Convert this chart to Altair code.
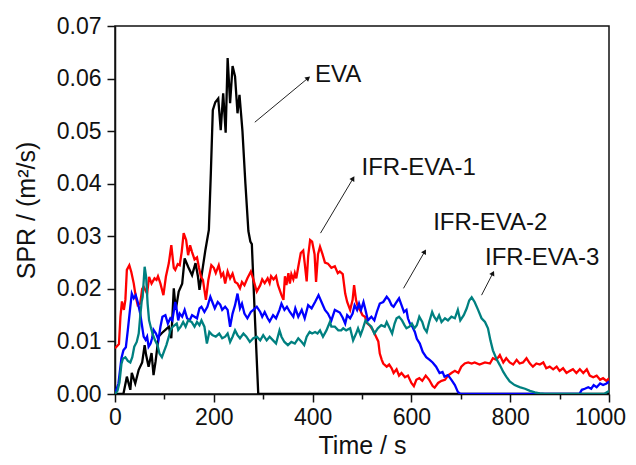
import math
import altair as alt
import pandas as pd

# ---------------- data ----------------
series_names = ["EVA", "IFR-EVA-1", "IFR-EVA-2", "IFR-EVA-3"]
series_colors = ["#000000", "#FF0000", "#0000FF", "#008080"]

eva_t = [0, 17, 24, 31, 34, 41, 48, 55, 60, 63, 68, 74, 78, 82, 85, 88, 95, 102, 109, 114,
         119, 123, 129, 136, 141, 148, 156, 163, 168, 171, 176, 183, 190, 194, 198, 203, 209,
         214, 219, 224, 228, 233, 238, 243, 248, 252, 255, 258, 264, 270, 274, 277, 283, 290,
         300, 1000]
eva_v = [0, 0, 0.0033, 0.0008, 0.004, 0.002, 0.0046, 0.006, 0.0093, 0.0074, 0.0052, 0.0078,
         0.0036, 0.0061, 0.0084, 0.0109, 0.0116, 0.0122, 0.0128, 0.0106, 0.0201, 0.016, 0.0195,
         0.021, 0.0258, 0.0242, 0.0226, 0.0249, 0.0223, 0.0198, 0.023, 0.0274, 0.0312, 0.042,
         0.054, 0.0555, 0.0562, 0.0502, 0.0572, 0.0497, 0.0639, 0.0553, 0.0624, 0.0604, 0.0534,
         0.0569, 0.0535, 0.05, 0.04, 0.031, 0.029, 0.0285, 0.015, 0.0, 0.0, 0.0]

ifr1_t = [0, 3, 8, 11, 14, 18, 21, 24, 29, 33, 38, 42, 46, 51, 55, 58, 65, 69, 74, 80, 84, 87,
          92, 98, 103, 109, 114, 119, 122, 127, 131, 135, 139, 144, 148, 152, 156, 161, 166, 170,
          174, 178, 184, 189, 195, 200, 204, 210, 215, 219, 223, 228, 233, 238, 243, 248, 253,
          257, 262, 268, 275, 280, 287, 294, 298, 303, 309, 313, 316, 321, 326, 330, 337, 341,
          344, 347, 351, 354, 357, 361, 364, 367, 371, 376, 381, 384, 388, 391, 395, 399, 404,
          407, 411, 415, 420, 425, 431, 438, 445, 451, 455, 461, 466, 470, 476, 481, 484, 488,
          492, 497, 501, 506, 510, 516, 523, 528, 533, 536, 540, 543, 550, 555, 560, 564, 570,
          575, 580, 587, 593, 600, 605, 610, 616, 622, 629, 636, 643, 647, 654, 661, 668, 674,
          681, 688, 695, 701, 708, 715, 722, 728, 738, 749, 759, 765, 772, 779, 786, 792, 799,
          806, 813, 819, 826, 833, 840, 846, 853, 860, 867, 873, 880, 887, 894, 900, 907, 914,
          921, 927, 934, 941, 948, 955, 961, 968, 975, 982, 988, 995, 1000]
ifr1_v = [0.0087, 0.009, 0.0095, 0.0147, 0.0176, 0.016, 0.0179, 0.0236, 0.0245, 0.0232, 0.021,
          0.0185, 0.0169, 0.0172, 0.020, 0.0204, 0.0191, 0.0223, 0.021, 0.022, 0.0217, 0.0224,
          0.021, 0.0188, 0.0223, 0.0249, 0.0283, 0.024, 0.0236, 0.0247, 0.0245, 0.027, 0.0306,
          0.0293, 0.0264, 0.0283, 0.027, 0.0256, 0.026, 0.024, 0.0223, 0.0217, 0.0179, 0.0217,
          0.0245, 0.024, 0.023, 0.0245, 0.0224, 0.023, 0.021, 0.0233, 0.022, 0.0229, 0.0213,
          0.021, 0.0201, 0.0213, 0.0207, 0.022, 0.0233, 0.0218, 0.0195, 0.0207, 0.0218, 0.0211,
          0.022, 0.0211, 0.0224, 0.0218, 0.0224, 0.0207, 0.0188, 0.0179, 0.0224, 0.0207, 0.023,
          0.021, 0.0228, 0.0218, 0.023, 0.022, 0.0242, 0.0268, 0.0273, 0.0249, 0.0214, 0.0262,
          0.0293, 0.029, 0.0266, 0.0213, 0.0266, 0.028, 0.0266, 0.025, 0.0248, 0.024, 0.0243,
          0.023, 0.0233, 0.0228, 0.0191, 0.0175, 0.016, 0.0179, 0.0207, 0.0178, 0.0165, 0.0158,
          0.015, 0.0147, 0.0135, 0.013, 0.012, 0.011, 0.010, 0.0077, 0.0065, 0.0058, 0.0052,
          0.0056, 0.0049, 0.004, 0.0047, 0.0035, 0.004, 0.0032, 0.0035, 0.0021, 0.0015, 0.0027,
          0.003, 0.0025, 0.0035, 0.0027, 0.0015, 0.0012, 0.0021, 0.0025, 0.0027, 0.0035, 0.004,
          0.0044, 0.004, 0.0052, 0.0058, 0.006, 0.0058, 0.006, 0.0056, 0.006, 0.0058, 0.0068,
          0.0065, 0.0074, 0.006, 0.0068, 0.006, 0.0056, 0.0065, 0.0058, 0.006, 0.0068, 0.0058,
          0.0052, 0.0058, 0.0056, 0.006, 0.0049, 0.0052, 0.0047, 0.0052, 0.0044, 0.0049, 0.004,
          0.0044, 0.0047, 0.004, 0.0047, 0.004, 0.0047, 0.0035, 0.0032, 0.0035, 0.0027, 0.003,
          0.0025, 0.003]

ifr2_t = [0, 7, 13, 17, 22, 26, 31, 34, 38, 42, 46, 51, 55, 58, 62, 65, 68, 72, 75, 78, 83, 88,
          92, 96, 102, 107, 112, 116, 122, 125, 128, 131, 136, 141, 146, 151, 156, 161, 166, 171,
          175, 181, 187, 193, 197, 202, 208, 213, 217, 223, 228, 233, 238, 243, 248, 253, 257,
          262, 268, 275, 280, 287, 294, 298, 303, 309, 313, 320, 326, 333, 337, 343, 348, 354,
          361, 365, 371, 378, 384, 391, 398, 405, 412, 418, 425, 431, 438, 445, 455, 461, 466,
          470, 476, 481, 485, 490, 494, 498, 503, 507, 512, 519, 525, 530, 536, 543, 550, 555,
          560, 564, 570, 575, 580, 585, 590, 593, 597, 602, 607, 611, 617, 623, 630, 637, 643,
          650, 657, 663, 667, 674, 681, 688, 694, 699, 940, 945, 951, 958, 964, 969, 975, 982,
          988, 995, 1000]
ifr2_v = [0, 0.002, 0.0068, 0.0083, 0.0089, 0.0122, 0.0166, 0.0191, 0.0182, 0.0188, 0.0175,
          0.0153, 0.0128, 0.0109, 0.0103, 0.0109, 0.009, 0.0096, 0.0106, 0.0122, 0.0115, 0.0103,
          0.0128, 0.0147, 0.015, 0.0134, 0.0144, 0.014, 0.0175, 0.016, 0.014, 0.0153, 0.0147,
          0.016, 0.0144, 0.014, 0.015, 0.0147, 0.0144, 0.0163, 0.0166, 0.0156, 0.0166, 0.0185,
          0.0175, 0.0163, 0.0175, 0.017, 0.016, 0.0166, 0.016, 0.0128, 0.0153, 0.0169, 0.0191,
          0.0163, 0.0172, 0.0153, 0.0144, 0.0156, 0.016, 0.0166, 0.0156, 0.0147, 0.0156, 0.0144,
          0.0138, 0.015, 0.0144, 0.016, 0.0172, 0.016, 0.0166, 0.0156, 0.0147, 0.0163, 0.0147,
          0.016, 0.0144, 0.0169, 0.0163, 0.0175, 0.0188, 0.0175, 0.016, 0.0153, 0.014, 0.016,
          0.0155, 0.0145, 0.0134, 0.015, 0.0144, 0.0153, 0.0169, 0.016, 0.0172, 0.016, 0.0175,
          0.016, 0.014, 0.0147, 0.014, 0.0156, 0.0172, 0.0175, 0.0185, 0.0179, 0.0169, 0.0166,
          0.0175, 0.0182, 0.0169, 0.0156, 0.016, 0.0144, 0.0134, 0.0128, 0.0118, 0.0105, 0.0096,
          0.008, 0.007, 0.0065, 0.006, 0.0052, 0.004, 0.0042, 0.0033, 0.0036, 0.0027, 0.0017,
          0.0004, 0, 0, 0.0008, 0.001, 0.0013, 0.001, 0.0017, 0.0013, 0.002, 0.0017, 0.002,
          0.0024]

ifr3_t = [0, 5, 9, 13, 16, 21, 26, 31, 35, 39, 44, 48, 51, 54, 56, 60, 63, 66, 69, 73, 76, 81,
          86, 90, 95, 100, 104, 109, 112, 117, 121, 125, 128, 133, 138, 143, 148, 155, 161, 166,
          171, 175, 181, 186, 191, 197, 204, 211, 217, 223, 228, 233, 238, 243, 248, 253, 260,
          266, 273, 280, 287, 294, 300, 307, 313, 320, 326, 333, 337, 343, 350, 357, 364, 371,
          378, 383, 388, 394, 399, 405, 410, 415, 421, 428, 435, 438, 445, 452, 458, 462, 468,
          476, 482, 488, 492, 497, 502, 507, 512, 519, 525, 532, 539, 546, 550, 556, 561, 566,
          570, 575, 581, 586, 590, 596, 601, 606, 611, 616, 622, 626, 631, 636, 642, 646, 651,
          656, 661, 668, 674, 681, 688, 694, 699, 706, 712, 717, 722, 728, 735, 742, 749, 755,
          760, 765, 772, 779, 786, 792, 799, 809, 819, 830, 840, 850, 860, 870, 990, 995, 1000]
ifr3_v = [0, 0.0006, 0.0022, 0.0057, 0.0067, 0.007, 0.0063, 0.006, 0.007, 0.009, 0.0099,
          0.0115, 0.0147, 0.0176, 0.0185, 0.0242, 0.0223, 0.0172, 0.014, 0.0125, 0.0115, 0.0102,
          0.0093, 0.0077, 0.007, 0.0083, 0.0093, 0.0109, 0.0121, 0.0128, 0.0131, 0.0134, 0.0122,
          0.0128, 0.0137, 0.0128, 0.014, 0.0137, 0.0128, 0.0137, 0.0131, 0.014, 0.0128, 0.0096,
          0.0118, 0.0112, 0.0109, 0.0115, 0.0106, 0.0109, 0.0115, 0.0099, 0.0109, 0.0121, 0.0112,
          0.0106, 0.0115, 0.0109, 0.0099, 0.0106, 0.0109, 0.0102, 0.0112, 0.0102, 0.0109, 0.0102,
          0.0096, 0.0121, 0.0109, 0.0099, 0.0093, 0.0099, 0.0096, 0.0106, 0.0099, 0.0093, 0.0109,
          0.0118, 0.0115, 0.0118, 0.0115, 0.0121, 0.0109, 0.0121, 0.0137, 0.0128, 0.0128, 0.0121,
          0.0121, 0.0125, 0.0121, 0.0125, 0.0102, 0.0115, 0.0125, 0.0112, 0.0125, 0.014, 0.0134,
          0.0128, 0.0115, 0.0125, 0.0131, 0.0128, 0.0137, 0.0125, 0.0115, 0.0134, 0.0144, 0.0147,
          0.014, 0.0131, 0.0125, 0.0128, 0.0134, 0.0125, 0.0131, 0.0147, 0.0137, 0.0125, 0.0118,
          0.0137, 0.0156, 0.0147, 0.014, 0.015, 0.0137, 0.0144, 0.014, 0.0147, 0.0144, 0.016,
          0.014, 0.015, 0.0163, 0.0178, 0.0184, 0.0175, 0.016, 0.0144, 0.0137, 0.0125, 0.0102,
          0.0083, 0.0067, 0.0055, 0.0042, 0.0033, 0.0024, 0.0017, 0.0013, 0.001, 0.0006, 0.0003,
          0.0001, 0, 0, 0.0003, 0.0006]

# annotation labels and arrows (data coordinates)
label_text = ["EVA", "IFR-EVA-1", "IFR-EVA-2", "IFR-EVA-3"]
label_x = [405, 499, 644, 749]
label_y = [0.0594, 0.0417, 0.0312, 0.0245]
arrow_x0 = [283, 416, 584, 742]
arrow_y0 = [0.0517, 0.0306, 0.0201, 0.0188]
arrow_x1 = [391, 482, 627, 765]
arrow_y1 = [0.0601, 0.0410, 0.0271, 0.0230]

x_tick_values = list(range(0, 1001, 100))
y_tick_values = [round(i * 0.005, 3) for i in range(15)]

# ---------------- chart ----------------
W, H = 494, 368
X_MAX, Y_MAX = 1000, 0.07
FONT = "Liberation Sans"

rows = []
for name, ts, vs in zip(series_names, [eva_t, ifr1_t, ifr2_t, ifr3_t],
                        [eva_v, ifr1_v, ifr2_v, ifr3_v]):
    for t, v in zip(ts, vs):
        rows.append({"series": name, "t": t, "v": v})
df = pd.DataFrame(rows)

angles = []
for a, b, c, d in zip(arrow_x0, arrow_y0, arrow_x1, arrow_y1):
    dx = (c - a) * W / X_MAX
    dy = (d - b) * H / Y_MAX
    angles.append(math.degrees(math.atan2(dx, dy)))
arrows = pd.DataFrame({"x0": arrow_x0, "y0": arrow_y0, "x1": arrow_x1, "y1": arrow_y1,
                       "angle": angles})
labels = pd.DataFrame({"text": label_text, "x": label_x, "y": label_y})

xs = alt.Scale(domain=[0, X_MAX], nice=False, zero=False)
ys = alt.Scale(domain=[0, Y_MAX], nice=False, zero=False)

x_major = "datum.value % 200 === 0"
y_major = "round(datum.value * 1000) % 10 === 0"

x_axis = alt.Axis(
    title="Time / s", values=x_tick_values, format="d",
    labelExpr=f"{x_major} ? datum.label : ''",
    tickSize={"condition": {"test": x_major, "value": 8}, "value": 5},
    labelOffset={"condition": {"test": "datum.value === 1000", "value": -9}, "value": 0},
    labelPadding=4, titlePadding=4, grid=False, labelFlush=False, labelOverlap=False,
)
y_axis = alt.Axis(
    title="SPR / (m²/s)", values=y_tick_values, format=".2f",
    labelExpr=f"{y_major} ? datum.label : ''",
    tickSize={"condition": {"test": y_major, "value": 8}, "value": 5},
    labelPadding=6, titlePadding=17, grid=False, labelFlush=False, labelOverlap=False,
)

lines = alt.Chart(df).mark_line(strokeWidth=2.3, clip=True).encode(
    x=alt.X("t:Q", scale=xs, axis=x_axis),
    y=alt.Y("v:Q", scale=ys, axis=y_axis),
    color=alt.Color("series:N", scale=alt.Scale(domain=series_names, range=series_colors),
                    legend=None),
    detail="series:N",
)

arrow_lines = alt.Chart(arrows).mark_rule(color="#222222", strokeWidth=1).encode(
    x=alt.X("x0:Q", scale=xs), y=alt.Y("y0:Q", scale=ys),
    x2="x1:Q", y2="y1:Q",
)
arrow_heads = alt.Chart(arrows).mark_point(
    shape="triangle-up", filled=True, color="#111111", size=32, opacity=1
).encode(
    x=alt.X("x1:Q", scale=xs), y=alt.Y("y1:Q", scale=ys),
    angle=alt.Angle("angle:Q", scale=None),
)
texts = alt.Chart(labels).mark_text(
    align="left", baseline="alphabetic", font=FONT, fontSize=24, color="#111111"
).encode(
    x=alt.X("x:Q", scale=xs), y=alt.Y("y:Q", scale=ys), text="text:N",
)

chart = alt.layer(lines, arrow_lines, arrow_heads, texts).properties(
    width=W, height=H,
    padding={"left": 107, "top": 18, "right": 19, "bottom": 63},
    autosize=alt.AutoSizeParams(type="none"),
).configure_view(
    stroke="#111111", strokeWidth=1.5
).configure_axis(
    domainColor="#111111", domainWidth=1.5, tickColor="#111111", tickWidth=1.5,
    labelFont=FONT, labelFontSize=23, labelColor="#111111",
    titleFont=FONT, titleFontSize=25, titleFontWeight="normal", titleColor="#111111",
)

chart.save("out.html", embed_options={"renderer": "svg", "actions": False})
